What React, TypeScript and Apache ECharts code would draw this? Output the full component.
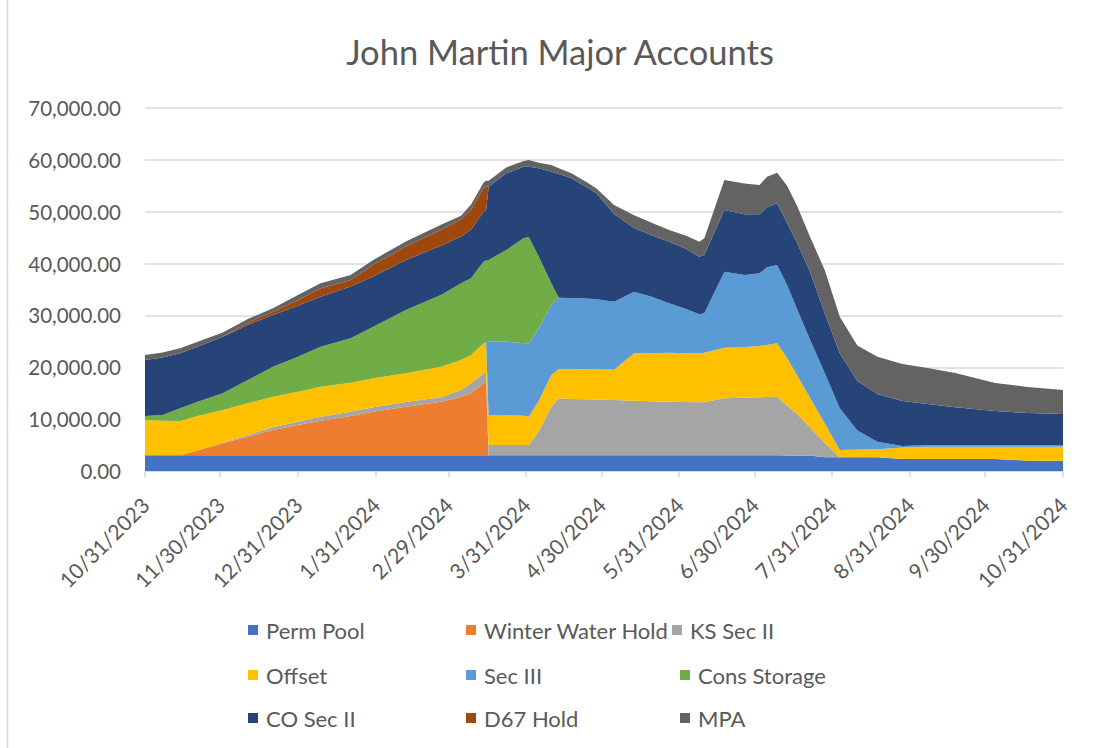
import React, { useEffect, useRef } from 'react';
import * as echarts from 'echarts';

const chartTitle = 'John Martin Major Accounts';

const dates = [
  '2023-10-31', '2023-11-07', '2023-11-14', '2023-11-21', '2023-12-01', '2023-12-11',
  '2023-12-21', '2023-12-31', '2024-01-09', '2024-01-21', '2024-01-30', '2024-02-12',
  '2024-02-26', '2024-03-05', '2024-03-09', '2024-03-14', '2024-03-15', '2024-03-16',
  '2024-03-23', '2024-03-30', '2024-04-01', '2024-04-05', '2024-04-10', '2024-04-13',
  '2024-04-18', '2024-04-24', '2024-04-28', '2024-05-05', '2024-05-13', '2024-05-20',
  '2024-05-27', '2024-06-03', '2024-06-08', '2024-06-10', '2024-06-18', '2024-06-26',
  '2024-07-02', '2024-07-05', '2024-07-09', '2024-07-13', '2024-07-17', '2024-07-22',
  '2024-07-28', '2024-08-03', '2024-08-10', '2024-08-18', '2024-08-28', '2024-09-07',
  '2024-09-18', '2024-10-04', '2024-10-17', '2024-10-31',
];

const permPool = [
  3050, 3050, 3050, 3050, 3050, 3050, 3050, 3050, 3050, 3050, 3050, 3050,
  3050, 3050, 3050, 3050, 3050, 3050, 3050, 3050, 3050, 3050, 3050, 3050,
  3050, 3050, 3050, 3050, 3050, 3050, 3050, 3050, 3050, 3050, 3050, 3050,
  3050, 3050, 3050, 3000, 3000, 3000, 2640, 2640, 2640, 2640, 2310, 2310,
  2310, 2310, 2000, 2000,
];
const winterWaterHold = [
  0, 0, 0, 900, 2290, 3560, 4850, 5820, 6650, 7550, 8390, 9350,
  10320, 11280, 11950, 13880, 14000, 0, 0, 0, 0, 0, 0, 0,
  0, 0, 0, 0, 0, 0, 0, 0, 0, 0, 0, 0,
  0, 0, 0, 0, 0, 0, 0, 0, 0, 0, 0, 0,
  0, 0, 0, 0,
];
const ksSecII = [
  0, 0, 0, 0, 100, 330, 530, 640, 770, 840, 840, 910,
  840, 1290, 1930, 1930, 1950, 1960, 1960, 1960, 1960, 4600, 9350, 10970,
  10830, 10800, 10700, 10640, 10500, 10390, 10320, 10250, 10200, 10250, 10970, 11080,
  11160, 11220, 11280, 9630, 7990, 5480, 2820, 0, 0, 0, 0, 0,
  0, 0, 0, 0,
];
const offset = [
  6780, 6650, 6590, 6650, 6320, 6110, 5900, 5780, 5780, 5590, 5600, 5540,
  5910, 5790, 5460, 5790, 5800, 5790, 5790, 5650, 5460, 5900, 6110, 5650,
  5790, 5790, 5920, 5840, 9140, 9250, 9450, 9390, 9440, 9510, 9750, 9780,
  9890, 10020, 10290, 9160, 7460, 5730, 3740, 1410, 1490, 1540, 2220, 2380,
  2380, 2380, 2690, 2690,
];
const secIII = [
  0, 0, 0, 0, 0, 0, 0, 0, 0, 0, 0, 0,
  0, 0, 0, 0, 0, 14130, 14130, 13990, 14150, 13960, 13490, 13740,
  13680, 13630, 13430, 13110, 11880, 10910, 9510, 8490, 7520, 7590, 14660, 13880,
  14020, 14980, 15100, 14070, 12730, 11300, 9690, 8040, 3660, 1470, 290, 300,
  300, 300, 300, 300,
];
const consStorage = [
  770, 1100, 2450, 2760, 3220, 4490, 5780, 6750, 7710, 8570, 9960, 12210,
  13840, 14810, 14800, 15750, 15800, 15750, 17680, 20270, 20440, 13810, 4190, 0,
  0, 0, 0, 0, 0, 0, 0, 0, 0, 0, 0, 0,
  0, 0, 0, 0, 0, 0, 0, 0, 0, 0, 0, 0,
  0, 0, 0, 0,
];
const coSecII = [
  10800, 11100, 10600, 10610, 10910, 10610, 9970, 9830, 9640, 9960, 9650, 9650,
  9460, 9000, 9320, 9650, 9700, 14130, 14790, 13750, 13610, 17040, 21520, 23850,
  23080, 21510, 20440, 16910, 12280, 11840, 11880, 11560, 11110, 11240, 11890, 11700,
  11370, 11570, 11890, 11950, 12780, 13050, 11570, 10600, 9560, 9200, 8680, 7930,
  7290, 6580, 6190, 6000,
];
const d67Hold = [
  0, 0, 0, 0, 0, 450, 630, 1100, 1620, 1290, 2260, 2570,
  3080, 3300, 3860, 4510, 4550, 0, 0, 0, 0, 0, 0, 0,
  0, 0, 0, 0, 0, 0, 0, 0, 0, 0, 0, 0,
  0, 0, 0, 0, 0, 0, 0, 0, 0, 0, 0, 0,
  0, 0, 0, 0,
];
const mpa = [
  960, 960, 970, 960, 800, 700, 660, 960, 970, 970, 960, 960,
  970, 700, 1000, 1080, 1100, 1160, 1150, 1100, 1290, 1080, 1290, 1100,
  970, 970, 960, 1740, 2450, 2430, 2250, 2570, 2890, 3220, 5780, 5970,
  5650, 5900, 5900, 7190, 7130, 6750, 8290, 7060, 6850, 7190, 7130, 6940,
  6610, 5400, 5020, 4630,
];

const seriesNames = [
  'Perm Pool', 'Winter Water Hold', 'KS Sec II', 'Offset', 'Sec III',
  'Cons Storage', 'CO Sec II', 'D67 Hold', 'MPA',
];
const seriesValues = [
  permPool, winterWaterHold, ksSecII, offset, secIII, consStorage, coSecII, d67Hold, mpa,
];
const seriesColors = [
  '#4472C4', '#ED7D31', '#A5A5A5', '#FFC000', '#5B9BD5',
  '#70AD47', '#264478', '#9E480E', '#636363',
];

const xTickDates = [
  '2023-10-31', '2023-11-30', '2023-12-31', '2024-01-31', '2024-02-29', '2024-03-31',
  '2024-04-30', '2024-05-31', '2024-06-30', '2024-07-31', '2024-08-31', '2024-09-30',
  '2024-10-31',
];
const yMin = 0;
const yMax = 70000;
const yStep = 10000;

// legend layout: [name, left, top]
const legendLayout: [string, number, number][] = [
  ['Perm Pool', 248, 619],
  ['Winter Water Hold', 466, 619],
  ['KS Sec II', 672, 619],
  ['Offset', 248, 664],
  ['Sec III', 466, 664],
  ['Cons Storage', 680, 664],
  ['CO Sec II', 248, 707],
  ['D67 Hold', 466, 707],
  ['MPA', 680, 707],
];

const FONT = 'Lato, "Open Sans", sans-serif';
const TEXT = '#595959';

function ts(s: string): number {
  const [y, m, d] = s.split('-').map(Number);
  return Date.UTC(y, m - 1, d);
}

function fmtNum(v: number): string {
  const s = v.toFixed(2);
  const [i, f] = s.split('.');
  return i.replace(/\B(?=(\d{3})+(?!\d))/g, ',') + '.' + f;
}

function fmtDate(v: number): string {
  const d = new Date(v);
  return `${d.getUTCMonth() + 1}/${d.getUTCDate()}/${d.getUTCFullYear()}`;
}

export default function App() {
  const ref = useRef<HTMLDivElement>(null);

  useEffect(() => {
    if (!ref.current) return;
    const chart = echarts.init(ref.current, undefined, { renderer: 'svg' });
    const tickVals = xTickDates.map(ts);
    const xMin = ts(xTickDates[0]);
    const xMax = ts(xTickDates[xTickDates.length - 1]);

    const option: any = {
      animation: false,
      backgroundColor: '#ffffff',
      title: {
        text: chartTitle,
        left: 555,
        top: 29,
        textAlign: 'center',
        textStyle: { fontFamily: FONT, fontSize: 34.5, fontWeight: 'normal', color: TEXT },
      },
      graphic: [
        {
          type: 'line',
          shape: { x1: 7.5, y1: 0, x2: 7.5, y2: 748 },
          style: { stroke: '#D9D9D9', lineWidth: 1.5 },
          silent: true,
        },
      ],
      legend: legendLayout.map(([name, left, top]) => ({
        data: [name],
        left,
        top,
        orient: 'horizontal',
        icon: 'rect',
        itemWidth: 10,
        itemHeight: 10,
        padding: 0,
        selectedMode: false,
        textStyle: { fontFamily: FONT, fontSize: 22, color: TEXT, padding: [0, 0, 0, 3] },
      })),
      grid: { left: 145, right: 40, top: 108, bottom: 277, containLabel: false },
      xAxis: [
        {
          type: 'time',
          min: xMin,
          max: xMax,
          show: false,
        },
        {
          type: 'value',
          min: xMin,
          max: xMax,
          position: 'bottom',
          axisLine: { show: true, onZero: false, lineStyle: { color: '#D9D9D9', width: 1.5 } },
          axisTick: {
            show: true,
            customValues: tickVals,
            length: 6,
            lineStyle: { color: '#D9D9D9', width: 1.5 },
          },
          axisLabel: {
            customValues: tickVals,
            rotate: 45,
            margin: 30,
            formatter: (v: number) => fmtDate(v),
            color: TEXT,
            fontFamily: FONT,
            fontSize: 21,
            hideOverlap: false,
            showMinLabel: true,
            showMaxLabel: true,
          },
          splitLine: { show: false },
        },
      ],
      yAxis: {
        type: 'value',
        min: yMin,
        max: yMax,
        interval: yStep,
        axisLine: { show: false },
        axisTick: { show: false },
        axisLabel: {
          formatter: (v: number) => fmtNum(v),
          color: TEXT,
          fontFamily: FONT,
          fontSize: 20.5,
          margin: 24,
        },
        splitLine: { lineStyle: { color: '#D9D9D9', width: 1.5 } },
      },
      series: seriesNames.map((name, k) => ({
        name,
        type: 'line',
        xAxisIndex: 0,
        stack: 'total',
        data: dates.map((d, i) => [ts(d), seriesValues[k][i]]),
        showSymbol: false,
        symbol: 'none',
        lineStyle: { width: 0 },
        areaStyle: { color: seriesColors[k], opacity: 1 },
        itemStyle: { color: seriesColors[k] },
        emphasis: { disabled: true },
        silent: true,
        z: 2,
      })),
    };

    chart.setOption(option);
    return () => chart.dispose();
  }, []);

  return (
    <div
      ref={ref}
      style={{ position: 'absolute', left: 0, top: 0, width: 1103, height: 748, background: '#fff' }}
    />
  );
}
